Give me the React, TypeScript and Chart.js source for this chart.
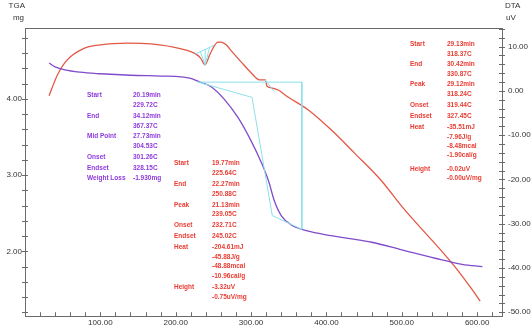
import React, { useEffect, useRef } from 'react';
import { Chart, registerables } from 'chart.js';

Chart.register(...registerables);

// TGA curve (temperature °C, mass mg)
const tgaTemp = [32, 40, 53, 73, 100, 140, 180, 207, 220, 230, 247, 264, 283, 300, 313, 323, 331, 340, 353, 371, 393, 429, 460, 500, 544, 580, 607];
const tgaMass = [4.47, 4.42, 4.38, 4.35, 4.33, 4.31, 4.30, 4.29, 4.27, 4.23, 4.16, 4.00, 3.75, 3.45, 3.18, 2.93, 2.66, 2.47, 2.35, 2.28, 2.23, 2.17, 2.12, 2.02, 1.91, 1.83, 1.80];

// DTA curve (temperature °C, signal uV)
const dtaTemp = [32, 36, 43, 56, 77, 100, 136, 167, 207, 227, 233, 239, 245, 251, 256, 260, 267, 273, 287, 300, 311, 319, 321, 327, 336, 349, 376, 407, 437, 473, 500, 569, 593, 604];
const dtaSignal = [-1.1, 0.7, 3.6, 7.0, 9.5, 10.4, 10.8, 10.6, 9.5, 8.3, 7.4, 5.9, 8.1, 10.1, 11.0, 11.0, 10.4, 9.2, 6.5, 4.1, 2.5, 2.5, 1.1, 0.7, 0.2, -1.4, -4.3, -8.9, -14.0, -20.3, -26.1, -39.4, -44.8, -47.5];

// TGA analysis lines
const tgaLevelTemp = [229.72, 367.37];
const tgaLevelMass = [4.22, 4.22];
const tgaEndTemp = [367.37, 367.37];
const tgaEndMass = [4.22, 2.29];
const tgaTangentTemp = [229.72, 301.26, 328.15, 367.37];
const tgaTangentMass = [4.22, 4.02, 2.47, 2.29];

// DTA analysis lines, peak 1
const dta1BaseTemp = [225.64, 250.88];
const dta1BaseSignal = [8.3, 10.3];
const dta1TangentTemp = [232.71, 239.05, 245.02];
const dta1TangentSignal = [8.86, 5.9, 9.84];
const dta1PeakTemp = [239.05, 239.05];
const dta1PeakSignal = [5.9, 9.36];

// DTA analysis lines, peak 2
const dta2BaseTemp = [318.37, 330.87];
const dta2BaseSignal = [2.5, -0.2];

// Axis settings
const xMin = 0, xMax = 633, xStep = 20;
const tgaMin = 1.15, tgaMax = 4.93, tgaStep = 0.2;
const dtaMin = -50.9, dtaMax = 14.2, dtaStep = 2;

// Annotation texts
const tgaInfoLabels = ['Start', '', 'End', '', 'Mid Point', '', 'Onset', 'Endset', 'Weight Loss'];
const tgaInfoValues = ['20.19min', '229.72C', '34.12min', '367.37C', '27.73min', '304.53C', '301.26C', '328.15C', '-1.930mg'];
const dta1InfoLabels = ['Start', '', 'End', '', 'Peak', '', 'Onset', 'Endset', 'Heat', '', '', '', 'Height', ''];
const dta1InfoValues = ['19.77min', '225.64C', '22.27min', '250.88C', '21.13min', '239.05C', '232.71C', '245.02C', '-204.61mJ', '-45.88J/g', '-48.88mcal', '-10.96cal/g', '-3.32uV', '-0.75uV/mg'];
const dta2InfoLabels = ['Start', '', 'End', '', 'Peak', '', 'Onset', 'Endset', 'Heat', '', '', '', 'Height', ''];
const dta2InfoValues = ['29.13min', '318.37C', '30.42min', '330.87C', '29.12min', '318.24C', '319.44C', '327.45C', '-35.51mJ', '-7.96J/g', '-8.48mcal', '-1.90cal/g', '-0.02uV', '-0.00uV/mg'];

const zip = (xs: number[], ys: number[]) => xs.map((x, i) => ({ x, y: ys[i] }));

const PURPLE = 'rgb(128,76,202)';
const RED = 'rgb(226,88,70)';
const CYAN = 'rgb(140,224,234)';
const PURPLE_TEXT = 'rgb(142,58,220)';
const RED_TEXT = 'rgb(232,60,50)';
const AXIS = '#6a6a6a';
const FONT = '"Liberation Sans", Arial, sans-serif';

export default function App() {
  const ref = useRef<HTMLCanvasElement | null>(null);

  useEffect(() => {
    if (!ref.current) return;

    const overlay = {
      id: 'overlay',
      afterDraw(chart: any) {
        const ctx = chart.ctx;
        const { left, right, top, bottom } = chart.chartArea;
        ctx.save();
        ctx.strokeStyle = AXIS;
        ctx.lineWidth = 1;
        // top border
        ctx.beginPath();
        ctx.moveTo(left, top + 0.5);
        ctx.lineTo(right, top + 0.5);
        ctx.stroke();
        // tick marks
        const xs = chart.scales.x;
        ctx.beginPath();
        xs.ticks.forEach((t: any) => {
          const p = Math.round(xs.getPixelForValue(t.value)) + 0.5;
          ctx.moveTo(p, bottom);
          ctx.lineTo(p, bottom - 4);
        });
        const ys = chart.scales.y;
        ys.ticks.forEach((t: any) => {
          const p = Math.round(ys.getPixelForValue(t.value)) + 0.5;
          ctx.moveTo(left - 3, p);
          ctx.lineTo(left + 3, p);
        });
        const y1 = chart.scales.y1;
        y1.ticks.forEach((t: any) => {
          const p = Math.round(y1.getPixelForValue(t.value)) + 0.5;
          ctx.moveTo(right - 3, p);
          ctx.lineTo(right + 3, p);
        });
        ctx.stroke();

        // axis titles
        ctx.fillStyle = '#333';
        ctx.font = `8px ${FONT}`;
        ctx.textBaseline = 'middle';
        ctx.textAlign = 'right';
        ctx.fillText('TGA', 25, 6);
        ctx.fillText('mg', 24, 18);
        ctx.textAlign = 'left';
        ctx.fillText('DTA', 505, 6);
        ctx.fillText('uV', 506, 18);

        // annotation blocks
        ctx.font = `bold 6.5px ${FONT}`;
        const block = (labels: string[], values: string[], rows: number[], lx: number, vx: number, color: string) => {
          ctx.fillStyle = color;
          labels.forEach((l, i) => {
            if (l) ctx.fillText(l, lx, rows[i]);
            ctx.fillText(values[i], vx, rows[i]);
          });
        };
        block(tgaInfoLabels, tgaInfoValues, [95, 105, 116, 126, 136, 146, 157, 168, 178], 87, 133, PURPLE_TEXT);
        block(dta1InfoLabels, dta1InfoValues, [163, 173, 184, 194, 205, 214, 225, 236, 247, 257, 266, 276, 287, 297], 174, 212, RED_TEXT);
        block(dta2InfoLabels, dta2InfoValues, [44, 54, 64, 74, 84, 94, 105, 116, 127, 137, 146, 155, 169, 178], 410, 447, RED_TEXT);
        ctx.restore();
      },
    };

    const line = (data: any[], color: string, axis: string, width: number, curve: boolean) => ({
      data,
      borderColor: color,
      backgroundColor: color,
      borderWidth: width,
      pointRadius: 0,
      fill: false,
      yAxisID: axis,
      cubicInterpolationMode: curve ? 'monotone' : 'default',
      tension: 0,
    });

    const chart = new Chart(ref.current, {
      type: 'line',
      data: {
        datasets: [
          line(zip(tgaLevelTemp, tgaLevelMass), CYAN, 'y', 1, false),
          line(zip(tgaEndTemp, tgaEndMass), CYAN, 'y', 1, false),
          line(zip(tgaTangentTemp, tgaTangentMass), CYAN, 'y', 1, false),
          line(zip(dta1BaseTemp, dta1BaseSignal), CYAN, 'y1', 1, false),
          line(zip(dta1TangentTemp, dta1TangentSignal), CYAN, 'y1', 1, false),
          line(zip(dta1PeakTemp, dta1PeakSignal), CYAN, 'y1', 1, false),
          line(zip(dta2BaseTemp, dta2BaseSignal), CYAN, 'y1', 1, false),
          line(zip(tgaTemp, tgaMass), PURPLE, 'y', 1.3, true),
          line(zip(dtaTemp, dtaSignal), RED, 'y1', 1.3, true),
        ] as any,
      },
      options: {
        responsive: false,
        animation: false,
        events: [],
        layout: { padding: { top: 28, left: 0, right: 0, bottom: 0 } },
        plugins: { legend: { display: false }, tooltip: { enabled: false } },
        scales: {
          x: {
            type: 'linear',
            min: xMin,
            max: xMax,
            grid: { display: false, drawTicks: false },
            border: { display: true, color: AXIS, width: 1 },
            ticks: {
              stepSize: xStep,
              includeBounds: false,
              autoSkip: false,
              maxRotation: 0,
              padding: 2,
              color: '#333',
              font: { size: 8, family: FONT },
              callback: (v: any) => (v > 0 && v % 100 === 0 ? Number(v).toFixed(2) : ''),
            },
            afterFit: (s: any) => { s.height = 10; },
          },
          y: {
            type: 'linear',
            position: 'left',
            min: tgaMin,
            max: tgaMax,
            grid: { display: false, drawTicks: false },
            border: { display: true, color: AXIS, width: 1 },
            ticks: {
              stepSize: tgaStep,
              includeBounds: false,
              autoSkip: false,
              padding: 3,
              color: '#333',
              font: { size: 8, family: FONT },
              callback: (v: any) => (Math.abs(v - Math.round(v)) < 1e-6 ? Number(v).toFixed(2) : ''),
            },
            afterFit: (s: any) => { s.width = 25; },
          },
          y1: {
            type: 'linear',
            position: 'right',
            min: dtaMin,
            max: dtaMax,
            grid: { display: false, drawTicks: false },
            border: { display: true, color: AXIS, width: 1 },
            ticks: {
              stepSize: dtaStep,
              includeBounds: false,
              autoSkip: false,
              padding: 6,
              color: '#333',
              font: { size: 8, family: FONT },
              callback: (v: any) => (Math.abs(v % 10) < 1e-6 ? Number(v).toFixed(2) : ''),
            },
            afterFit: (s: any) => { s.width = 29; },
          },
        },
      } as any,
      plugins: [overlay],
    });
    return () => chart.destroy();
  }, []);

  return (
    <div style={{ position: 'absolute', left: 0, top: 0, width: 531, height: 327, background: '#fff' }}>
      <canvas ref={ref} width={531} height={327} style={{ display: 'block', width: 531, height: 327 }} />
    </div>
  );
}
